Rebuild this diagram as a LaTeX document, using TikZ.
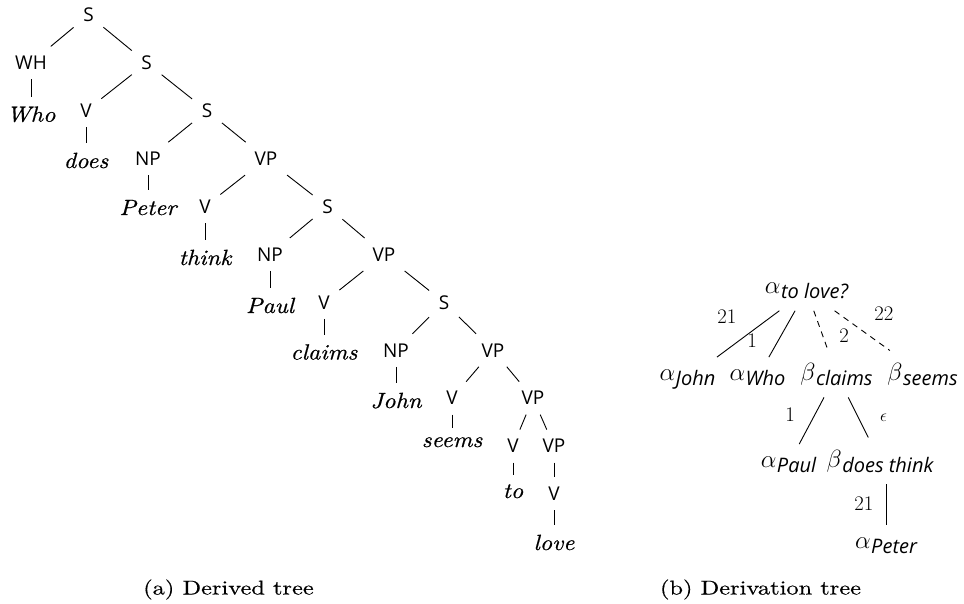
\documentclass[tikz,border=0pt]{standalone}
\usepackage[no-math]{fontspec}
\usetikzlibrary{calc}
\newfontfamily\labfont{Open Sans}
\newfontfamily\subfont{Open Sans}
\newfontfamily\wordfont{lmroman10-italic.otf}[FakeStretch=1.1,FakeBold=0.6]
\newfontfamily\capfont{lmroman10-regular.otf}[FakeStretch=1.22,FakeBold=0.4]
\newcommand\trsub[2]{$#1$\kern0.5pt\raisebox{-5pt}{\fontsize{20}{24}\selectfont\subfont\itshape #2}}
\tikzset{
  lab/.style={font={\labfont\fontsize{19}{22}\selectfont}, inner sep=9.5pt, anchor=base},
  wrd/.style={font={\wordfont\fontsize{22}{26}\selectfont}, inner sep=9.5pt, anchor=base},
  dnode/.style={font={\fontsize{24}{28}\selectfont}, inner sep=12pt, anchor=base},
  elab/.style={font={\fontsize{20}{24}\selectfont}, inner sep=0pt},
  capt/.style={font={\capfont\fontsize{20}{24}\selectfont}, anchor=base, inner sep=0pt},
  tline/.style={line width=0.9pt},
  dline/.style={tline, dash pattern=on 6pt off 5pt}
}
\begin{document}
\begin{tikzpicture}[x=1pt,y=-1pt]
\useasboundingbox (0,0) rectangle (964,603);
% ---------- derived tree ----------
\node[lab] (S0)  at (88.5,21.75) {S};
\node[lab] (WH)  at (31,69.65) {WH};
\node[lab] (S1)  at (146.7,69.65) {S};
\node[lab] (V1)  at (86,117.55) {V};
\node[lab] (S2)  at (207,117.55) {S};
\node[lab] (NP1) at (148,165.45) {NP};
\node[lab] (VP1) at (266,165.45) {VP};
\node[lab] (V2)  at (205,213.35) {V};
\node[lab] (S3)  at (327.5,213.35) {S};
\node[lab] (NP2) at (270,261.25) {NP};
\node[lab] (VP2) at (384,261.25) {VP};
\node[lab] (V3)  at (324,309.15) {V};
\node[lab] (S4)  at (444,309.15) {S};
\node[lab] (NP3) at (396,357.05) {NP};
\node[lab] (VP3) at (493,357.05) {VP};
\node[lab] (V4)  at (452,404.95) {V};
\node[lab] (VP4) at (533,404.95) {VP};
\node[lab] (V5)  at (513,452.85) {V};
\node[lab] (VP5) at (554,452.85) {VP};
\node[lab] (V6)  at (554,500.75) {V};
\node[wrd] (who)    at (31,121.7) {Who};
\node[wrd] (does)   at (86,168) {does};
\node[wrd] (peter)  at (148,215) {Peter};
\node[wrd] (think)  at (205,265) {think};
\node[wrd] (paul)   at (270,313) {Paul};
\node[wrd] (claims) at (324,359.5) {claims};
\node[wrd] (john)   at (396,408) {John};
\node[wrd] (seems)  at (452,447) {seems};
\node[wrd] (to)     at (513,498) {to};
\node[wrd] (love)   at (554,550) {love};
\foreach \a/\b in {S0/WH,S0/S1,WH/who,S1/V1,S1/S2,V1/does,S2/NP1,S2/VP1,NP1/peter,
  VP1/V2,VP1/S3,V2/think,S3/NP2,S3/VP2,NP2/paul,VP2/V3,VP2/S4,V3/claims,S4/NP3,S4/VP3,
  NP3/john,VP3/V4,VP3/VP4,V4/seems,VP4/V5,VP4/VP5,V5/to,VP5/V6,V6/love}
  \draw[tline] (\a) -- (\b);
% ---------- derivation tree ----------
\node[dnode] (r)  at (806.5,293.3) {\trsub{\alpha}{to love?}};
\node[dnode] (aj) at (687.5,380) {\trsub{\alpha}{John}};
\node[dnode] (aw) at (757.5,380) {\trsub{\alpha}{Who}};
\node[dnode] (bc) at (836.5,380) {\trsub{\beta}{claims}};
\node[dnode] (bs) at (922.5,380) {\trsub{\beta}{seems}};
\node[dnode] (ap) at (788.5,467) {\trsub{\alpha}{Paul}};
\node[dnode] (bd) at (880,467) {\trsub{\beta}{does think}};
\node[dnode] (ae) at (886,548) {\trsub{\alpha}{Peter}};
\draw[tline] (r) -- (aj);
\draw[tline] (r) -- (aw);
\draw[dline] (r) -- (bc);
\draw[dline] (r) -- (bs);
\draw[tline] (bc) -- (ap);
\draw[tline] (bc) -- (bd);
\draw[tline] (ae |- bd.south) -- (ae.north);
\node[elab] (l1) at (727,317) {$21$};
\node[elab] (l2) at (752,341) {$1$};
\node[elab] (l3) at (844,336) {$2$};
\node[elab] (l4) at (884,313.5) {$22$};
\node[elab] (l5) at (790,415) {$1$};
\node[elab,font={\fontsize{17}{20}\selectfont}] (l6) at (883.5,418) {$\epsilon$};
\node[elab] (l7) at (864,504) {$21$};
% ---------- captions ----------
\node[capt] (ca) at (228.5,594.5) {(a) Derived tree};
\node[capt] (cb) at (760.5,594.5) {(b) Derivation tree};
\end{tikzpicture}
\end{document}
